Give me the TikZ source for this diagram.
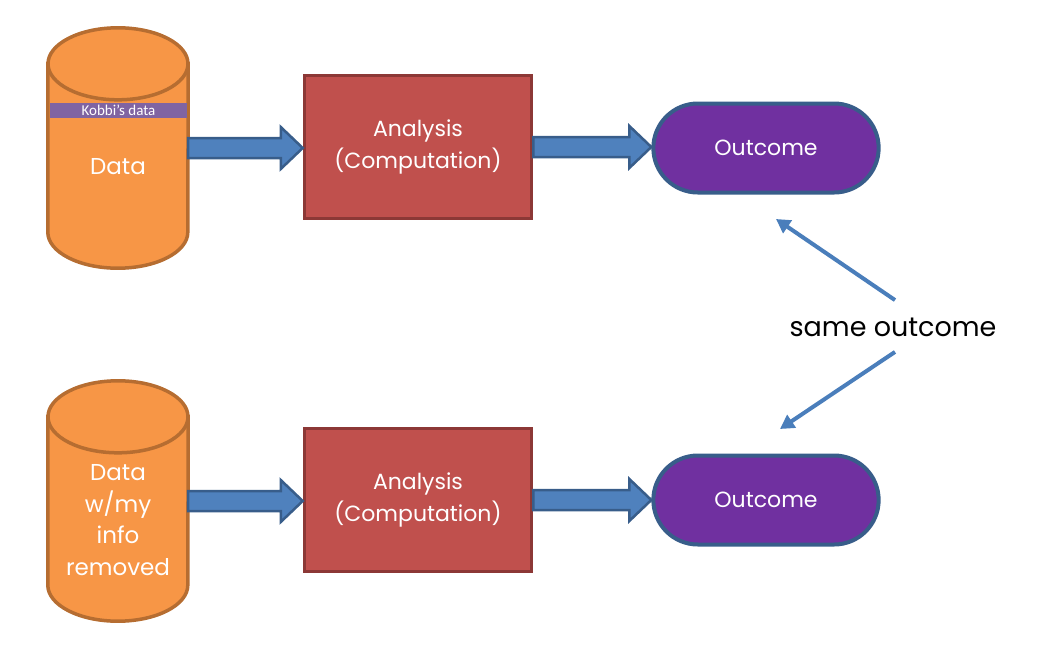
\documentclass[tikz,border=0pt]{standalone}
\usepackage{fontspec}
\setmainfont{Poppins}
\newfontfamily\calibri{Carlito}
\usetikzlibrary{shapes.misc,calc,arrows.meta}
\definecolor{dbfill}{HTML}{F79646}
\definecolor{dbedge}{HTML}{B66D31}
\definecolor{boxfill}{HTML}{C0504D}
\definecolor{boxedge}{HTML}{8C3836}
\definecolor{outfill}{HTML}{7030A0}
\definecolor{outedge}{HTML}{385D8A}
\definecolor{arrfill}{HTML}{4F81BD}
\definecolor{arredge}{HTML}{385D8A}
\definecolor{bandfill}{HTML}{8064A2}
\definecolor{ptrcol}{HTML}{4A7EBB}
\tikzset{
  dbshape/.style={fill=dbfill, draw=dbedge, line width=3.5pt},
  dbnode/.style={rectangle, minimum width=140pt, minimum height=240pt, inner sep=0pt},
  dbtext/.style={text=white, align=center, font=\fontsize{23}{31.5}\selectfont},
  band/.style={rectangle, fill=bandfill, minimum width=137pt, minimum height=15pt, inner sep=0pt, text=white, font=\calibri\fontsize{15}{15}\selectfont},
  analysis/.style={rectangle, fill=boxfill, draw=boxedge, line width=3.5pt, minimum width=227pt, minimum height=143pt, text=white, align=center, font=\fontsize{22}{32}\selectfont},
  outcome/.style={rounded rectangle, fill=outfill, draw=outedge, line width=4pt, minimum width=232pt, minimum height=89pt, text=white, font=\fontsize{22}{26}\selectfont},
  blockarrow/.style={fill=arrfill, draw=arredge, line width=2.5pt, line join=miter},
  pointer/.style={draw=ptrcol, line width=4pt, -{Triangle[length=14pt,width=15pt]}}
}
\newcommand\drawdb[1]{%
  \draw[dbshape] ([yshift=-36pt]#1.north west) -- ([yshift=36pt]#1.south west)
    arc[start angle=180, end angle=360, x radius=70pt, y radius=36pt]
    -- ([yshift=-36pt]#1.north east) -- cycle;
  \draw[dbshape] ([yshift=-36pt]#1.north) ellipse[x radius=70pt, y radius=36pt];}
\newcommand\blockarrow[2]{%
  \draw[blockarrow] let \p1=(#1.east), \p2=(#2.west) in
    (\x1,\y1+10pt) -- (\x2-22pt,\y1+10pt) -- (\x2-22pt,\y1+21pt) -- (\x2,\y1)
    -- (\x2-22pt,\y1-21pt) -- (\x2-22pt,\y1-10pt) -- (\x1,\y1-10pt) -- cycle;}

\begin{document}
\begin{tikzpicture}[x=1pt, y=-1pt]
  \useasboundingbox (0,0) rectangle (1045,651);
  % upper row
  \node[dbnode] (db1) at (118,148) {};
  \drawdb{db1}
  \node[band] (kobbi) at (118.5,110.5) {Kobbi’s data};
  \node[dbtext] (data1) at (118,167) {Data};
  \node[analysis] (an1) at (418,147) {Analysis\\(Computation)};
  \node[outcome] (out1) at (766,148) {Outcome};
  \blockarrow{db1}{an1}
  \blockarrow{an1}{out1}
  % lower row
  \node[dbnode] (db2) at (118,501) {};
  \drawdb{db2}
  \node[dbtext] (data2) at (118,520) {Data\\w/my\\info\\removed};
  \node[analysis] (an2) at (418,500) {Analysis\\(Computation)};
  \node[outcome] (out2) at (766,500) {Outcome};
  \blockarrow{db2}{an2}
  \blockarrow{an2}{out2}
  % comparison
  \node[font=\fontsize{27}{30}\selectfont] (same) at (893,327) {same outcome};
  \coordinate (tip1) at (776,219);
  \coordinate (tip2) at (780,429);
  \draw[pointer] ([xshift=2pt,yshift=14pt]same.north) -- (tip1);
  \draw[pointer] ([xshift=2pt,yshift=-12pt]same.south) -- (tip2);
\end{tikzpicture}
\end{document}
